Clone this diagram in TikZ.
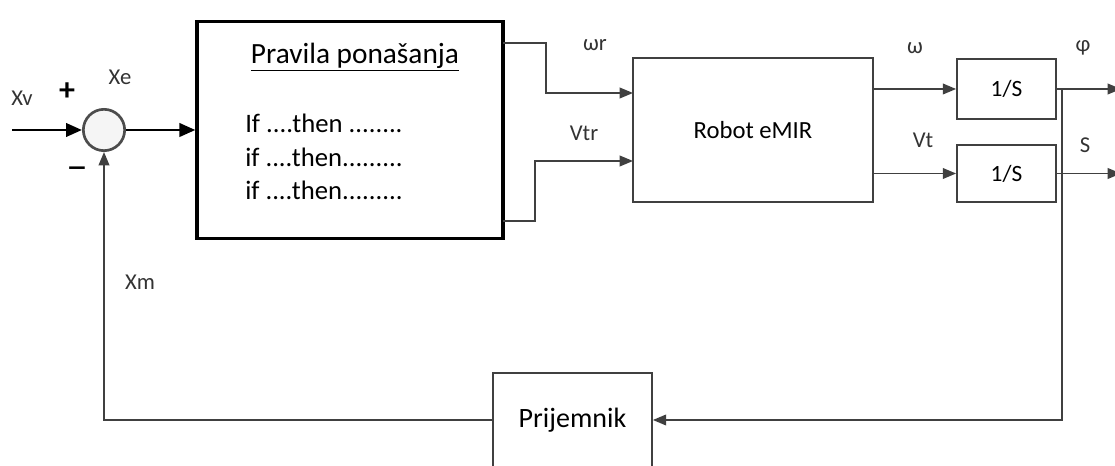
\documentclass[tikz,border=0pt]{standalone}
\usepackage{fontspec}
\setmainfont{Carlito}
\usepackage{tikz}
\usetikzlibrary{shapes,arrows.meta,positioning}

\begin{document}
\begin{tikzpicture}[
    x=0.75pt, y=-0.75pt,
    block/.style={rectangle, draw=black!75, line width=1.3pt, fill=white, inner sep=0pt},
    rulesbox/.style={rectangle, draw=black, line width=2.4pt, minimum width=229.5pt, minimum height=162.75pt, inner sep=0pt},
    sumnode/.style={circle, draw=black!70, line width=2pt, fill=gray!8, minimum size=31pt, inner sep=0pt},
    lbl/.style={font=\fontsize{17}{20}\selectfont, text=black!80, inner sep=1pt},
    arrow/.style={draw=black!75, line width=1.3pt, -{Triangle[length=10pt, width=8pt]}},
    line/.style={draw=black!75, line width=1.3pt},
    thickarrow/.style={draw=black, line width=2.2pt, -{Triangle[length=12pt, width=10pt]}}
]
\useasboundingbox (0,0) rectangle (1115,466);
% Summing junction
\node[sumnode] (sum) at (104,130) {};
% Behaviour rules
\node[rulesbox] (rules) at (350,130) {};
\node[font=\fontsize{22}{26}\selectfont] (rulestitle) at (355,57) {\underline{Pravila ponašanja}};
\node[font=\fontsize{20}{25}\selectfont, align=left, anchor=west, inner sep=0pt] (rulestext) at (245,157) {If ....then ........\\if ....then.........\\if ....then.........};
% Robot
\node[block, minimum width=180pt, minimum height=108pt, font=\fontsize{18.5}{22}\selectfont] (robot) at (753,130) {Robot eMIR};
% Integrators
\node[block, minimum width=74.25pt, minimum height=45pt, font=\fontsize{17.5}{20}\selectfont] (intphi) at (1006.5,89) {1/S};
\node[block, minimum width=74.25pt, minimum height=43pt, font=\fontsize{17.5}{20}\selectfont] (ints) at (1006.5,173.5) {1/S};
% Receiver
\node[block, minimum width=119.25pt, minimum height=70.5pt, font=\fontsize{21}{25}\selectfont] (prijemnik) at (572.5,420) {Prijemnik};
% Ports
\coordinate (xvin) at (12,130);
\coordinate (wrout) at (503,43);
\coordinate (vtrout) at (503,221);
\coordinate (wrin) at (633,93);
\coordinate (vtrin) at (633,161);
\coordinate (phiout) at (1121,89);
\coordinate (sout) at (1121,173.5);
\coordinate (tap) at (1062,89);
% Arrows
\draw[thickarrow] (xvin) -- (sum.west);
\draw[thickarrow] (sum.east) -- (sum.east -| rules.west);
\draw[arrow] (wrout) -- ++(43,0) |- (wrin);
\draw[arrow] (vtrout) -- ++(32,0) |- (vtrin);
\draw[arrow] (robot.east |- intphi.west) -- (intphi.west);
\draw[arrow] (robot.east |- ints.west) -- (ints.west);
\draw[arrow] (intphi.east) -- (phiout);
\draw[arrow] (ints.east) -- (sout);
\draw[arrow] (tap) |- (prijemnik.east);
\draw[arrow] (prijemnik.west) -| (sum.south);
% Labels
\node[lbl] (xv) at (22,98) {Xv};
\node[font=\fontsize{24}{26}\selectfont\bfseries] (plus) at (67,92) {+};
\node[lbl] (xe) at (120,77) {Xe};
\node[font=\fontsize{22}{24}\selectfont\bfseries] (minus) at (77,172) {\scalebox{1.5}[1]{--}};
\node[lbl] (xm) at (140,282) {Xm};
\node[lbl] (wr) at (595,45) {ωr};
\node[lbl] (vtr) at (584,133) {Vtr};
\node[lbl] (w) at (915,48) {ω};
\node[lbl] (vt) at (923,140) {Vt};
\node[lbl] (phi) at (1083,48) {φ};
\node[lbl] (s) at (1085,145) {S};
\end{tikzpicture}
\end{document}
